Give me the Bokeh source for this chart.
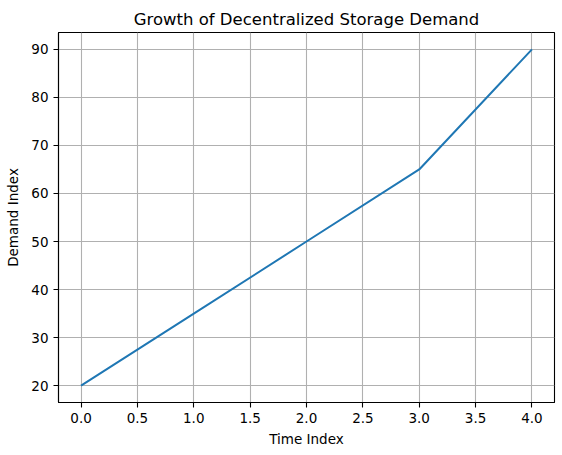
from bokeh.plotting import figure
from bokeh.models import Range1d, FixedTicker, PrintfTickFormatter
from bokeh.embed import file_html
from bokeh.resources import INLINE

time_index = [0, 1, 2, 3, 4]
demand_index = [20, 35, 50, 65, 90]
x_ticks = [0.0, 0.5, 1.0, 1.5, 2.0, 2.5, 3.0, 3.5, 4.0]
y_ticks = [20, 30, 40, 50, 60, 70, 80, 90]

FONT = "DejaVu Sans"

# bokeh's page template puts the plot at (0, 0), so borders take the whole window
p = figure(frame_width=496, frame_height=370, output_backend="svg", toolbar_location=None,
           title="Growth of Decentralized Storage Demand",
           x_range=Range1d(-0.2, 4.2), y_range=Range1d(16.5, 93.5),
           min_border_left=58, min_border_right=7, min_border_top=32, min_border_bottom=52)

p.title.align = "center"
p.title.text_font = FONT
p.title.text_font_size = "16.5px"
p.title.text_font_style = "normal"
p.title.text_color = "black"
p.title.offset = 0
p.title.standoff = 7

p.line(time_index, demand_index, line_color="#1f77b4", line_width=2)

p.outline_line_color = "black"
p.outline_line_width = 1.1
p.outline_line_alpha = 1

for ax in (p.xaxis, p.yaxis):
    ax.axis_line_color = "black"
    ax.axis_line_width = 1.1
    ax.major_tick_line_color = "black"
    ax.major_tick_line_width = 1.1
    ax.major_tick_in = 0
    ax.major_tick_out = 5
    ax.minor_tick_line_color = None
    ax.major_label_text_font = FONT
    ax.major_label_text_font_size = "13.5px"
    ax.major_label_text_color = "black"
    ax.axis_label_text_font = FONT
    ax.axis_label_text_font_size = "13.5px"
    ax.axis_label_text_font_style = "normal"
    ax.axis_label_text_color = "black"
    ax.major_label_standoff = 5

p.xaxis.axis_label = "Time Index"
p.yaxis.axis_label = "Demand Index"
p.xaxis.axis_label_standoff = 5
p.yaxis.axis_label_standoff = 7
p.xaxis.ticker = FixedTicker(ticks=x_ticks)
p.yaxis.ticker = FixedTicker(ticks=y_ticks)
p.xaxis.formatter = PrintfTickFormatter(format="%.1f")
p.yaxis.formatter = PrintfTickFormatter(format="%d")

p.xgrid.ticker = FixedTicker(ticks=x_ticks)
p.ygrid.ticker = FixedTicker(ticks=y_ticks)
for g in (p.xgrid, p.ygrid):
    g.grid_line_color = "#b0b0b0"
    g.grid_line_width = 1.1
    g.grid_line_alpha = 1

open("out.html", "w").write(file_html(p, INLINE))
